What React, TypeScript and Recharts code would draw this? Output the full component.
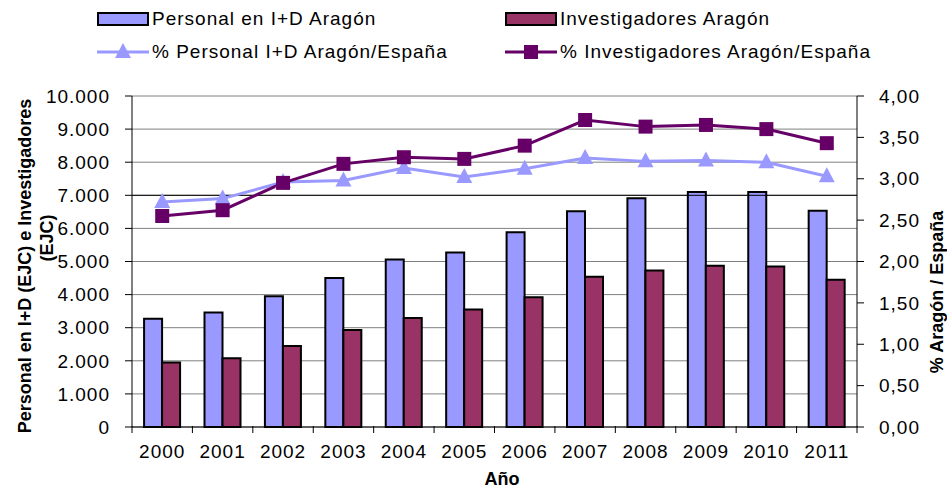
import React from 'react';
import {
  ComposedChart, Bar, Line, XAxis, YAxis, CartesianGrid, ReferenceLine, Label,
} from 'recharts';

const years = ['2000', '2001', '2002', '2003', '2004', '2005', '2006', '2007', '2008', '2009', '2010', '2011'];
const personal = [3270, 3460, 3950, 4500, 5060, 5270, 5880, 6520, 6910, 7100, 7100, 6530];
const investigadores = [1950, 2080, 2450, 2930, 3290, 3550, 3920, 4540, 4730, 4870, 4850, 4450];
const pctPersonal = [2.72, 2.76, 2.96, 2.98, 3.13, 3.02, 3.12, 3.25, 3.21, 3.22, 3.2, 3.03];
const pctInvestigadores = [2.55, 2.62, 2.95, 3.18, 3.26, 3.24, 3.4, 3.71, 3.63, 3.65, 3.6, 3.43];
const leftTicks = [0, 1000, 2000, 3000, 4000, 5000, 6000, 7000, 8000, 9000, 10000];
const rightTicks = [0, 0.5, 1, 1.5, 2, 2.5, 3, 3.5, 4];

const data = years.map((y, i) => ({
  year: y,
  personal: personal[i],
  investigadores: investigadores[i],
  pctPersonal: pctPersonal[i],
  pctInvestigadores: pctInvestigadores[i],
}));

const W = 947;
const H = 490;
const LEFT_W = 132;
const RIGHT_W = 90;
const HALF_BAND = (W - LEFT_W - RIGHT_W) / years.length / 2;

const FONT = 'Liberation Sans, Arial, sans-serif';
const tickStyle = { fontSize: 19, fill: '#000', fontFamily: FONT, letterSpacing: 1 };

const fmtLeft = (v: number) => v.toLocaleString('de-DE');
const fmtRight = (v: number) => v.toFixed(2).replace('.', ',');

const Tri = (props: any) => {
  const { cx, cy } = props;
  if (cx == null || cy == null) return null;
  return <polygon points={`${cx},${cy - 9} ${cx - 8},${cy + 6} ${cx + 8},${cy + 6}`} fill="#9999FF" />;
};

const Sq = (props: any) => {
  const { cx, cy } = props;
  if (cx == null || cy == null) return null;
  return <rect x={cx - 7} y={cy - 7} width={14} height={14} fill="#660066" />;
};

// category label plus tick marks on the band edges (Excel style)
const YearTick = (props: any) => {
  const { x, y, payload, index, visibleTicksCount } = props;
  const last = index === visibleTicksCount - 1;
  const top = y - 1;
  return (
    <g>
      <line x1={x - HALF_BAND} y1={top} x2={x - HALF_BAND} y2={top + 7} stroke="#000" />
      {last && <line x1={x + HALF_BAND} y1={top} x2={x + HALF_BAND} y2={top + 7} stroke="#000" />}
      <text x={x} y={y + 31} textAnchor="middle" {...tickStyle}>
        {payload.value}
      </text>
    </g>
  );
};

const legendText: React.CSSProperties = { fontFamily: FONT, fontSize: 19, letterSpacing: 1, color: '#000', whiteSpace: 'nowrap' };

const LegendItem = ({ x, y, kind, color, label }: any) => (
  <div style={{ position: 'absolute', left: x, top: y - 12, height: 24, display: 'flex', alignItems: 'center' }}>
    <svg width={52} height={24} style={{ marginRight: 3 }}>
      {kind === 'bar' ? (
        <rect x={1} y={6} width={50} height={12} fill={color} stroke="#000" strokeWidth={2} />
      ) : (
        <g>
          <line x1={0} y1={12} x2={52} y2={12} stroke={color} strokeWidth={3} />
          {kind === 'tri' ? <Tri cx={26} cy={12} /> : <Sq cx={26} cy={12} />}
        </g>
      )}
    </svg>
    <span style={legendText}>{label}</span>
  </div>
);

export default function App() {
  return (
    <div style={{ position: 'absolute', left: 0, top: 0, width: W, height: H, background: '#fff' }}>
      <LegendItem x={97} y={19} kind="bar" color="#9999FF" label="Personal en I+D Aragón" />
      <LegendItem x={505} y={19} kind="bar" color="#993366" label="Investigadores Aragón" />
      <LegendItem x={97} y={52} kind="tri" color="#9999FF" label="% Personal I+D Aragón/España" />
      <LegendItem x={505} y={52} kind="sq" color="#660066" label="% Investigadores Aragón/España" />
      <ComposedChart
        width={W}
        height={H}
        data={data}
        margin={{ top: 96, right: 0, bottom: 0, left: 0 }}
        barCategoryGap="20%"
        barGap={0}
      >
        <CartesianGrid yAxisId="left" vertical={false} stroke="#808080" strokeWidth={1} />
        <XAxis
          xAxisId="cat"
          dataKey="year"
          height={63}
          tickLine={false}
          tickSize={0}
          tickMargin={0}
          axisLine={{ stroke: '#000' }}
          tick={<YearTick />}
          interval={0}
        >
          <Label
            content={() => (
              <text x={502} y={485} textAnchor="middle" fontFamily={FONT} fontSize={18} fontWeight="bold">
                Año
              </text>
            )}
          />
        </XAxis>
        <YAxis
          yAxisId="left"
          width={LEFT_W}
          domain={[0, 10000]}
          ticks={leftTicks}
          tickFormatter={fmtLeft}
          tick={tickStyle}
          axisLine={{ stroke: '#000' }}
          tickLine={{ stroke: '#000' }}
          tickSize={7}
          tickMargin={15}
        >
          <Label
            content={() => (
              <g fontFamily={FONT} fontSize={18} fontWeight="bold">
                <text x={0} y={0} transform="translate(31,266) rotate(-90)" textAnchor="middle">
                  Personal en I+D (EJC) e Investigadores
                </text>
                <text x={0} y={0} transform="translate(53,238) rotate(-90)" textAnchor="middle">
                  (EJC)
                </text>
              </g>
            )}
          />
        </YAxis>
        <YAxis
          yAxisId="right"
          orientation="right"
          width={RIGHT_W}
          domain={[0, 4]}
          ticks={rightTicks}
          tickFormatter={fmtRight}
          tick={tickStyle}
          axisLine={{ stroke: '#000' }}
          tickLine={{ stroke: '#000' }}
          tickSize={7}
          tickMargin={15}
        >
          <Label
            content={() => (
              <text x={0} y={0} transform="translate(943,292) rotate(-90)" textAnchor="middle" fontFamily={FONT} fontSize={18} fontWeight="bold">
                % Aragón / España
              </text>
            )}
          />
        </YAxis>
        <ReferenceLine yAxisId="left" xAxisId="cat" y={7000} stroke="#000" strokeWidth={1} />
        <Bar xAxisId="cat" yAxisId="left" dataKey="personal" fill="#9999FF" stroke="#000" strokeWidth={2} isAnimationActive={false} />
        <Bar xAxisId="cat" yAxisId="left" dataKey="investigadores" fill="#993366" stroke="#000" strokeWidth={2} isAnimationActive={false} />
        <Line
          xAxisId="cat"
          yAxisId="right"
          dataKey="pctPersonal"
          stroke="#9999FF"
          strokeWidth={3}
          dot={<Tri />}
          activeDot={false}
          isAnimationActive={false}
        />
        <Line
          xAxisId="cat"
          yAxisId="right"
          dataKey="pctInvestigadores"
          stroke="#660066"
          strokeWidth={3}
          dot={<Sq />}
          activeDot={false}
          isAnimationActive={false}
        />
      </ComposedChart>
    </div>
  );
}
